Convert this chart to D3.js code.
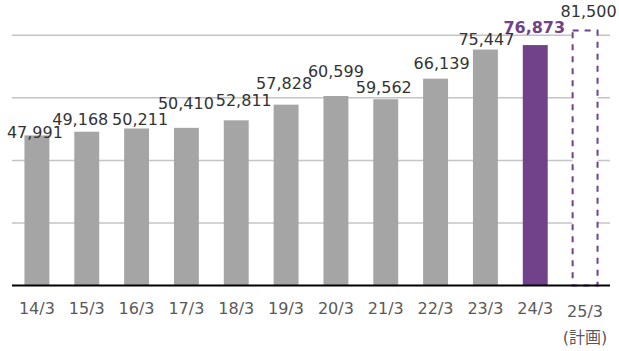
<!DOCTYPE html>
<html>
<head>
<meta charset="utf-8">
<script src="https://cdn.jsdelivr.net/npm/d3@7"></script>
<style>
  body { margin: 0; background: #fff; }
  svg text { font-family: "DejaVu Sans", Verdana, "Noto Sans CJK JP", sans-serif; }
</style>
</head>
<body>
<div id="chart"></div>
<script>
// data
var years = ["14/3", "15/3", "16/3", "17/3", "18/3", "19/3", "20/3", "21/3", "22/3", "23/3", "24/3", "25/3"];
var values = [47991, 49168, 50211, 50410, 52811, 57828, 60599, 59562, 66139, 75447, 76873, 81500];
var kinds = ["act", "act", "act", "act", "act", "act", "act", "act", "act", "act", "latest", "plan"];
var planNote = "(計画)";
var gridTicks = [0, 20000, 40000, 60000, 80000];

// label nudges (dx, dy from bar top centre) - labels were hand placed in the original
var labelNudge = [
    [-2, 3], [-6.5, -6.5], [3.5, -3.5], [-0.5, -18.5], [7.5, -14.5], [-2, -15.5],
    [0, -19], [-2, -6.5], [6, -9.5], [1, -4.5], [-1, -12], [3.5, -13.5]
];

var W = 619, H = 351;
var gray = "#a5a5a5";
var purple = "#71418a";

var svg = d3.select("#chart").append("svg")
    .attr("width", W)
    .attr("height", H);

var x = d3.scaleBand()
    .domain(years)
    .range([12, 610])
    .paddingInner(0.5)
    .paddingOuter(0.25);

var y = d3.scaleLinear()
    .domain([0, 80000])
    .range([285.5, 35.3]);

// gridlines
svg.append("g")
    .selectAll("line")
    .data(gridTicks.slice(1))
  .enter().append("line")
    .attr("x1", 12)
    .attr("x2", 610)
    .attr("y1", function(d) { return y(d); })
    .attr("y2", function(d) { return y(d); })
    .style("stroke", "#c4c4c4")
    .style("stroke-width", 1.5);

var rows = years.map(function(yr, i) {
    return { year: yr, value: values[i], kind: kinds[i], nudge: labelNudge[i] };
});

// bars
svg.append("g")
    .selectAll("rect")
    .data(rows)
  .enter().append("rect")
    .attr("x", function(d) { return x(d.year); })
    .attr("y", function(d) { return y(d.value); })
    .attr("width", x.bandwidth())
    .attr("height", function(d) { return y(0) - y(d.value); })
    .style("fill", function(d) {
        if (d.kind == "plan") return "#fff";
        return d.kind == "latest" ? purple : gray;
    })
    .style("stroke", function(d) { return d.kind == "plan" ? purple : "none"; })
    .style("stroke-width", 2)
    .style("stroke-dasharray", function(d) { return d.kind == "plan" ? "6,6" : null; });

// baseline
svg.append("line")
    .attr("x1", 12)
    .attr("x2", 610)
    .attr("y1", y(0))
    .attr("y2", y(0))
    .style("stroke", "#000")
    .style("stroke-width", 2);

// value labels
svg.append("g")
    .selectAll("text")
    .data(rows)
  .enter().append("text")
    .attr("x", function(d) { return x(d.year) + x.bandwidth() / 2 + d.nudge[0]; })
    .attr("y", function(d) { return y(d.value) + d.nudge[1]; })
    .attr("text-anchor", "middle")
    .style("font-size", "16px")
    .style("font-weight", function(d) { return d.kind == "latest" ? "bold" : "normal"; })
    .style("fill", function(d) { return d.kind == "latest" ? purple : "#333"; })
    .text(function(d) { return d3.format(",")(d.value); });

// x labels
svg.append("g")
    .selectAll("text")
    .data(rows)
  .enter().append("text")
    .attr("x", function(d) { return x(d.year) + x.bandwidth() / 2; })
    .attr("y", function(d) { return d.kind == "plan" ? 316.5 : 314; })
    .attr("text-anchor", "middle")
    .style("font-size", "16px")
    .style("fill", "#595959")
    .text(function(d) { return d.year; });

svg.append("text")
    .attr("x", x("25/3") + x.bandwidth() / 2)
    .attr("y", 342.5)
    .attr("text-anchor", "middle")
    .style("font-size", "16px")
    .style("fill", "#595959")
    .text(planNote);
</script>
</body>
</html>
